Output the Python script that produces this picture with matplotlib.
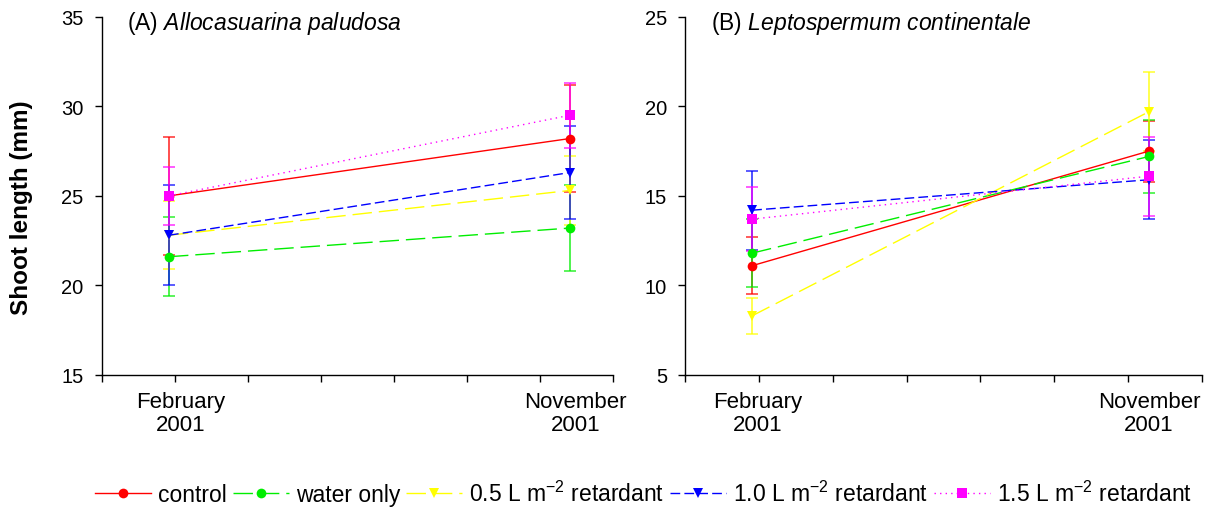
import matplotlib
matplotlib.use("Agg")
import matplotlib.pyplot as plt
from matplotlib.lines import Line2D

plt.rcParams['font.family'] = ['Liberation Sans', 'DejaVu Sans']
plt.rcParams['mathtext.fontset'] = 'custom'
plt.rcParams['mathtext.rm'] = 'Liberation Sans'
plt.rcParams['mathtext.it'] = 'Liberation Sans:italic'
plt.rcParams['mathtext.default'] = 'regular'

dates = ["February\n2001", "November\n2001"]
series = ["control", "water only", "0.5 L m$^{-2}$ retardant",
          "1.0 L m$^{-2}$ retardant", "1.5 L m$^{-2}$ retardant"]

# Panel A: Allocasuarina paludosa
a_mean = {
    "control":    [25.0, 28.2],
    "water":      [21.6, 23.2],
    "r05":        [22.8, 25.3],
    "r10":        [22.8, 26.3],
    "r15":        [25.0, 29.5],
}
a_err = {
    "control":    [3.3, 3.0],
    "water":      [2.2, 2.4],
    "r05":        [1.9, 1.9],
    "r10":        [2.8, 2.6],
    "r15":        [1.6, 1.8],
}
# Panel B: Leptospermum continentale
b_mean = {
    "control":    [11.1, 17.5],
    "water":      [11.8, 17.2],
    "r05":        [8.3, 19.7],
    "r10":        [14.2, 15.9],
    "r15":        [13.7, 16.1],
}
b_err = {
    "control":    [1.6, 1.7],
    "water":      [1.9, 2.05],
    "r05":        [1.0, 2.2],
    "r10":        [2.2, 2.2],
    "r15":        [1.8, 2.2],
}

keys = ["control", "water", "r05", "r10", "r15"]
colors = {"control": "#ff0000", "water": "#00ee00", "r05": "#ffff00",
          "r10": "#0000ff", "r15": "#ff00ff"}
markers = {"control": "o", "water": "o", "r05": "v", "r10": "v", "r15": "s"}
styles = {"control": "-", "water": (0, (14, 5)), "r05": (0, (14, 5)),
          "r10": (0, (7, 3)), "r15": (0, (1, 3))}

xa = [0.92, 6.4]
xb = [0.91, 6.28]

fig = plt.figure(figsize=(12.14, 5.10), dpi=100)
axA = fig.add_axes([0.0838, 0.263, 0.4215, 0.702])
axB = fig.add_axes([0.5642, 0.263, 0.4260, 0.702])

def draw(ax, x, means, errs, ylim, title_tag, species, lab_dx):
    for k in keys:
        ax.errorbar(x, means[k], yerr=errs[k], fmt='none',
                    ecolor=colors[k], elinewidth=1.3, capsize=4, capthick=1.2,
                    alpha=0.75, zorder=2)
    for k in keys:
        ax.plot(x, means[k], color=colors[k], linestyle=styles[k],
                linewidth=1.0, marker=markers[k], markersize=7,
                markeredgewidth=0, zorder=3)
    ax.set_xlim(0, 7)
    ax.set_ylim(*ylim)
    ax.set_yticks(range(ylim[0], ylim[1] + 1, 5))
    ax.set_xticks(range(0, 8))
    ax.set_xticklabels([])
    ax.tick_params(axis='both', direction='out', length=5, width=1,
                   labelsize=14.5, colors='black')
    ax.tick_params(axis='y', pad=8)
    for s in ("top", "right"):
        ax.spines[s].set_visible(False)
    for s in ("left", "bottom"):
        ax.spines[s].set_linewidth(1.0)
    for xi, lab, dx in zip(x, dates, lab_dx):
        ax.text(xi + dx, -0.045, lab, transform=ax.get_xaxis_transform(),
                ha='center', va='top', fontsize=16, linespacing=1.15)
    ax.text(0.05, 0.985, title_tag + " " + "$\\it{" + species.replace(" ", "\\ ") + "}$",
            transform=ax.transAxes, ha='left', va='center', fontsize=16.5)

draw(axA, xa, a_mean, a_err, (15, 35), "(A)", "Allocasuarina paludosa", [0.16, 0.08])
draw(axB, xb, b_mean, b_err, (5, 25), "(B)", "Leptospermum continentale", [0.08, 0.0])

fig.text(0.018, 0.593, "Shoot length (mm)", rotation=90, ha='center',
         va='center', fontsize=17.5, fontweight='bold')

handles = [Line2D([], [], color=colors[k], linestyle=styles[k], linewidth=1.0,
                  marker=markers[k], markersize=7, markeredgewidth=0)
           for k in keys]
fig.legend(handles, series, loc='center', bbox_to_anchor=(0.530, 0.03),
           ncol=5, frameon=False, fontsize=16.5, handlelength=2.45,
           handletextpad=0.3, columnspacing=0.25)

fig.savefig("out.png", dpi=100)
